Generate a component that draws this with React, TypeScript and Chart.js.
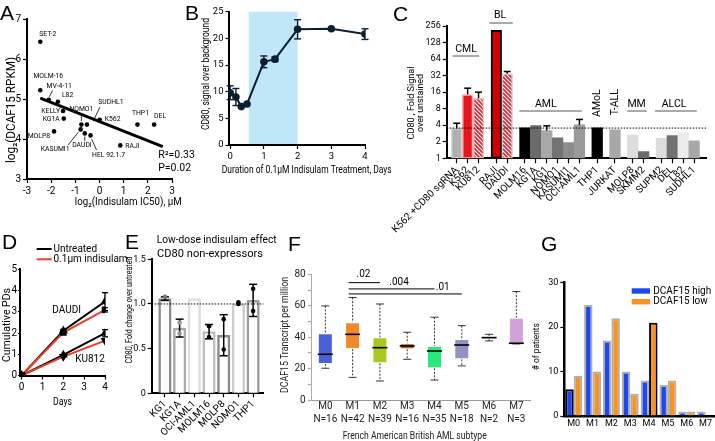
import React, { useEffect, useRef } from 'react';
import { Chart, registerables } from 'chart.js';

Chart.register(...registerables);

const FONT = 'Roboto, "Liberation Sans", sans-serif';
Chart.defaults.font.family = FONT;
Chart.defaults.color = '#000';

// ===== Panel A =====
const aCellLines = ['SET-2', 'MOLM-16', 'MV-4-11', 'L82', 'KELLY', 'KG1A', 'MOLP8', 'NOMO1', 'SUDHL1', 'KASUMI1', 'DAUDI', 'HEL 92.1.7', 'K562', 'THP1', 'DEL', 'RAJI'];
const aLog2IC50 = [-2.45, -2.45, -2.1, -1.72, -1.51, -1.48, -1.88, -0.75, -0.52, -0.78, -0.61, -0.37, 0.01, 1.57, 2.26, 0.86];
const aLog2RPKM = [6.43, 5.22, 4.98, 4.93, 4.7, 4.51, 4.19, 4.36, 4.36, 4.24, 4.14, 4.09, 4.48, 4.36, 4.36, 3.84];
const aFitX = [-2.45, 2.62];
const aFitY = [5.02, 3.81];
const aXTicks = [-3, -2, -1, 0, 1, 2, 3];
const aYTicks = [3, 4, 5, 6, 7];
const aStats = ['R²=0.33', 'P=0.02'];
const aStatX = 2.43;
const aStatY = [3.6, 3.27];

// ===== Panel B =====
const bDays = [0, 0.17, 0.33, 0.5, 1, 1.33, 2, 3, 4];
const bSignal = [9.8, 9.0, 7.2, 7.7, 15.6, 16.1, 21.7, 21.8, 20.8];
const bErr = [1.3, 1.6, 0, 0, 1.1, 0.45, 1.8, 0, 1.0];
const bWindow = [0.55, 2];
const bXTicks = [0, 1, 2, 3, 4];
const bYTicks = [0, 5, 10, 15, 20, 25];

// ===== Panel C =====
const cCells = ['K562 +CD80 sgRNA', 'K562', 'KU812', 'RAJI', 'DAUDI', 'MOLM16', 'KG1A', 'KG1', 'NOMO1', 'KASUMI1', 'OCI-AML1', 'THP1', 'JURKAT', 'MOLP8', 'SKMM2', 'SUPM2', 'DEL', 'L82', 'SUDHL1'];
const cGroupOf = [0, 0, 0, 1, 1, 2, 2, 2, 2, 2, 2, 3, 4, 5, 5, 6, 6, 6, 6];
const cGroups = ['CML', 'BL', 'AML', 'AMoL', 'T-ALL', 'MM', 'ALCL'];
const cSignal = [3.5, 14.5, 12.4, 213, 34.5, 3.6, 3.94, 3.2, 2.37, 1.93, 4.05, 3.6, 3.29, 2.66, 1.32, 2.32, 2.58, 2.93, 2.07];
const cErrTop: (number | null)[] = [4.35, 18.9, 16, null, 38, null, null, 3.9, null, null, 5.1, null, null, null, null, null, null, null, null];
const cThreshold = 3.55;
const cYTicks = [1, 2, 4, 8, 16, 32, 64, 128, 256];
const cYTitle = ['CD80 , Fold Signal', 'over unstained'];

// ===== Panel D =====
const dDays = [0, 2, 4];
const dDaudiUntreated = [0, 2.11, 3.48];
const dDaudiIndisulam = [0, 2.02, 3.09];
const dKu812Untreated = [0, 0.97, 1.99];
const dKu812Indisulam = [0, 0.89, 1.64];
const dDaudiUntreatedErr = [0, 0.06, 0.42];
const dDaudiIndisulamErr = [0, 0.05, 0.1];
const dKu812UntreatedErr = [0, 0, 0.17];
const dLegend = ['Untreated', '0.1μm indisulam'];
const dXTicks = [0, 1, 2, 3, 4];
const dYTicks = [0, 1, 2, 3, 4, 5];

// ===== Panel E =====
const eCells = ['KG1', 'KG1A', 'OCI-AML1', 'MOLM16', 'MOLP8', 'NOMO1', 'THP1'];
const eFold = [1.06, 0.73, 1.06, 0.69, 0.65, 1.0, 1.04];
const eErr = [0.02, 0.1, 0, 0.08, 0.23, 0.01, 0.18];
const eRep1: (number | null)[] = [1.08, 0.79, null, 0.75, 0.83, 1.0, 1.17];
const eRep2: (number | null)[] = [null, 0.67, null, 0.63, 0.49, 1.02, 0.92];
const eYTicks = [0, 0.5, 1.0, 1.5];
const eTitle = ['Low-dose indisulam effect', 'CD80 non-expressors'];

// ===== Panel F =====
const fSubtypes = ['M0', 'M1', 'M2', 'M3', 'M4', 'M5', 'M6', 'M7'];
const fN = [16, 42, 39, 16, 35, 18, 2, 3];
const fMin = [20.2, 14.4, 12.1, 25.9, 12.7, 21.7, 37.6, 35.7];
const fQ1 = [22.9, 32.5, 23.4, 32.3, 20.2, 25.9, 38.6, 35.7];
const fMed = [29.1, 41.8, 33.3, 34.4, 31.2, 35.0, 39.7, 36.1];
const fQ3 = [42.5, 49.5, 39.9, 36.1, 34.4, 38.9, 40.8, 52.4];
const fMax = [59.9, 65.2, 61.1, 43.1, 52.7, 47.3, 41.8, 69.0];
const fSigTo = [2, 4, 5];
const fSigP = ['.02', '.004', '.01'];
const fSigY = [74.7, 70.7, 67.5];
const fYTicks = [0, 10, 20, 30, 40, 50, 60, 70, 80];

// ===== Panel G =====
const gSubtypes = ['M0', 'M1', 'M2', 'M3', 'M4', 'M5', 'M6', 'M7'];
const gHigh = [6, 25, 17, 10, 8, 7, 1, 1];
const gLow = [9, 10, 22, 5, 21, 8, 1, 0];
const gSeries = ['DCAF15 high', 'DCAF15 low'];
const gYTicks = [0, 10, 20, 30];

// ---------- styles ----------
const aLabelStyle: any[] = [
  [-1, -7, 'left', null],
  [8, -13.5, 'center', null],
  [10.5, -13, 'center', [4, -9.5, 0.5, -3]],
  [4, -6, 'left', null],
  [-3, 0, 'right', null],
  [-4, 0.5, 'right', null],
  [-4, 5, 'right', null],
  [0, -15.5, 'center', [0, -11.5, 0, -3.5]],
  [24, -22, 'center', [13, -17.5, 6.3, -3.5]],
  [-25.5, 20, 'center', [-12.5, 15.5, -2.5, 3]],
  [-2.8, 11.6, 'center', [0, 7.5, 0, 3]],
  [18, 19.6, 'center', [6, 14.6, 1, 3.5]],
  [5, 0, 'left', null],
  [3, -11, 'center', null],
  [6, -8, 'center', null],
  [5, 1, 'left', null],
];
const cGroupGap = 0.63;
const cPos = cCells.map((_, i) => i + cGroupOf[i] * cGroupGap);
const cFill = ['#b0b0b0', '#e8141c', 'HATCH', '#d20000', 'HATCH', '#000000', '#6b6b6b', '#a8a8a8', '#727272', '#8c8c8c', '#9a9a9a', '#000000', '#a8a8a8', '#dcdcdc', '#6b6b6b', '#dcdcdc', '#727272', '#ececec', '#a8a8a8'];
const cBorder = ['#cfcfcf', '#f4b4b4', '#f0c0c0', '#000000', '#d4c0c0'];
const cGroupStyle: any[] = [
  [0.85, 96, -0.37, 2.07, 72.8, false],
  [3.97, 405, 2.99, 5.14, 290, false],
  [8.17, 9.7, 5.74, 11.47, 7.26, false],
  [12.9, 10.1, null, null, null, true],
  [14.52, 10.5, null, null, null, true],
  [16.5, 9.7, 15.65, 17.43, 7.26, false],
  [19.94, 9.7, 18.19, 22.02, 7.26, false],
];
const eBorder = ['#8a8a8a', '#ababab', '#dedede', '#bdbdbd', '#8a8a8a', '#cccccc', '#9a9a9a'];
const eMark = ['#777', '#999', '#000', '#000', '#000', '#000', '#000'];
const fColors = ['#4a60d8', '#f0892a', '#a9c81e', '#a2652f', '#27ea7d', '#9191c3', '#33b5c9', '#d0a3d6'];
const fSigLabelX = [1.4, 2.7, 4.3];
const fSigLabelY = [79.6, 75, 71.8];
const gColors = ['#1d48f0', '#f7931e'];
const UP = -Math.PI / 2;

// ---------- helpers ----------
function line(ctx: any, x1: number, y1: number, x2: number, y2: number) {
  ctx.beginPath(); ctx.moveTo(x1, y1); ctx.lineTo(x2, y2); ctx.stroke();
}
function errBar(ctx: any, x: number, yTop: number, yBot: number, cap: number) {
  line(ctx, x, yTop, x, yBot);
  line(ctx, x - cap, yTop, x + cap, yTop);
  line(ctx, x - cap, yBot, x + cap, yBot);
}
function frame(w: number, h: number, l: number, r: number, t: number, b: number) {
  return {
    layout: { padding: { left: 0, top: t, right: w - r, bottom: 0 } },
    xFit: (s: any) => { s.height = h - b; },
    yFit: (s: any) => { s.width = l; },
  };
}
function mkScale(p: any) {
  const s: any = {
    type: p.type || 'linear',
    offset: !!p.offset,
    afterFit: p.fit,
    grid: { drawOnChartArea: false, drawTicks: p.showTicks !== false, tickLength: p.tickLen ?? 4, tickColor: p.axisColor || '#000', tickWidth: 1.2, offset: !!p.offset },
    border: { display: true, color: p.axisColor || '#000', width: p.axisWidth ?? 2 },
    ticks: { autoSkip: false, color: p.labelColor || '#000', font: { size: p.size ?? 10, lineHeight: p.lineHeight ?? 1.2 }, padding: p.pad ?? 2, minRotation: p.rotate ?? 0, maxRotation: p.rotate ?? 0 },
    title: { display: false },
  };
  if (p.min !== undefined) s.min = p.min;
  if (p.max !== undefined) s.max = p.max;
  if (p.ticks) s.afterBuildTicks = (sc: any) => { sc.ticks = p.ticks.map((v: number) => ({ value: v })); };
  if (p.label) s.ticks.callback = p.label;
  return s;
}
function baseOpts(layout: any) {
  return {
    responsive: false, animation: false, layout, events: [],
    plugins: { legend: { display: false }, tooltip: { enabled: false } },
  };
}
// condensed text: drawn at the given size, squeezed horizontally to the given length
function condensed(ctx: any, text: string, cx: number, cy: number, len: number, rot: number, size: number, color = '#000') {
  ctx.save();
  ctx.font = `${size}px ${FONT}`;
  ctx.textAlign = 'center'; ctx.textBaseline = 'middle'; ctx.fillStyle = color;
  const sx = Math.max(0.6, Math.min(1.1, len / ctx.measureText(text).width));
  ctx.translate(cx, cy);
  if (rot) ctx.rotate(rot);
  ctx.scale(sx, 1);
  ctx.fillText(text, 0, 0);
  ctx.restore();
}
// axis titles: [text, centreX, centreY, length, rotation, size, colour]
function titlesPlugin(specs: any[]) {
  return {
    id: 'titles',
    afterDraw(chart: any) {
      specs.forEach(([text, cx, cy, len, rot, size, color]) => condensed(chart.ctx, text, cx, cy, len, rot, size, color));
    },
  };
}
function hatch(ctx: any, color: string) {
  const c = document.createElement('canvas');
  c.width = 4; c.height = 4;
  const g = c.getContext('2d')!;
  g.fillStyle = '#fff'; g.fillRect(0, 0, 4, 4);
  g.strokeStyle = color; g.lineWidth = 1.6;
  g.beginPath(); g.moveTo(-1, -1); g.lineTo(5, 5); g.moveTo(3, -1); g.lineTo(5, 1); g.moveTo(-1, 3); g.lineTo(1, 5); g.stroke();
  return ctx.createPattern(c, 'repeat');
}

// ---------- Panel A ----------
const plugA = {
  id: 'plugA',
  afterDatasetsDraw(chart: any) {
    const { ctx, scales: { x, y } } = chart;
    ctx.save();
    ctx.fillStyle = '#000'; ctx.strokeStyle = '#000'; ctx.lineWidth = 0.8;
    ctx.textBaseline = 'middle';
    ctx.font = `6.8px ${FONT}`;
    aCellLines.forEach((name, i) => {
      const px = x.getPixelForValue(aLog2IC50[i]);
      const py = y.getPixelForValue(aLog2RPKM[i]);
      const [dx, dy, al, ld] = aLabelStyle[i];
      ctx.textAlign = al;
      ctx.fillText(name, px + dx, py + dy);
      if (ld) line(ctx, px + ld[0], py + ld[1], px + ld[2], py + ld[3]);
    });
    ctx.font = `10.5px ${FONT}`;
    ctx.textAlign = 'left';
    aStats.forEach((s, i) => ctx.fillText(s, x.getPixelForValue(aStatX), y.getPixelForValue(aStatY[i])));
    ctx.restore();
  },
};
function cfgA() {
  const f = frame(200, 215, 27, 172, 19, 179);
  return {
    type: 'scatter',
    data: {
      datasets: [
        { type: 'line', data: aFitX.map((x, i) => ({ x, y: aFitY[i] })), borderColor: '#000', borderWidth: 3, pointRadius: 0 },
        { data: aLog2IC50.map((x, i) => ({ x, y: aLog2RPKM[i] })), pointRadius: 2.3, backgroundColor: '#000', borderColor: '#000', borderWidth: 0 },
      ],
    },
    options: {
      ...baseOpts(f.layout),
      scales: {
        x: mkScale({ min: -3, max: 3, ticks: aXTicks, fit: f.xFit }),
        y: mkScale({ min: 3, max: 7, ticks: aYTicks, fit: f.yFit }),
      },
    },
    plugins: [plugA, titlesPlugin([
      ['log₂(Indisulam IC50), μM', 128.3, 202, 107, 0, 11.5],
      ['log₂(DCAF15 RPKM)', 12, 110, 106, UP, 12],
    ])],
  };
}

// ---------- Panel B ----------
const plugB = {
  id: 'plugB',
  beforeDraw(chart: any) {
    const { ctx, scales: { x, y } } = chart;
    ctx.save();
    ctx.fillStyle = '#bfe7f8';
    const x1 = x.getPixelForValue(bWindow[0]);
    const x2 = x.getPixelForValue(bWindow[1]);
    const yt = y.getPixelForValue(bYTicks[bYTicks.length - 1]);
    const yb = y.getPixelForValue(0);
    ctx.fillRect(x1, yt, x2 - x1, yb - yt);
    ctx.restore();
  },
  afterDatasetsDraw(chart: any) {
    const { ctx, scales: { x, y } } = chart;
    ctx.save();
    ctx.strokeStyle = '#0b1f2e'; ctx.lineWidth = 1.4;
    bDays.forEach((d, i) => {
      if (!bErr[i]) return;
      errBar(ctx, x.getPixelForValue(d), y.getPixelForValue(bSignal[i] + bErr[i]), y.getPixelForValue(bSignal[i] - bErr[i]), 3.5);
    });
    ctx.restore();
  },
};
function cfgB() {
  const f = frame(212, 180, 43.5, 180, 11.7, 145);
  return {
    type: 'line',
    data: {
      datasets: [{ data: bDays.map((x, i) => ({ x, y: bSignal[i] })), borderColor: '#0b1f2e', backgroundColor: '#0b1f2e', borderWidth: 2, pointRadius: 2.8 }],
    },
    options: {
      ...baseOpts(f.layout),
      scales: {
        x: mkScale({ min: -0.05, max: 4, ticks: bXTicks, fit: f.xFit, size: 9.5 }),
        y: mkScale({ min: 0, max: 25, ticks: bYTicks, fit: f.yFit, size: 9.5, tickLen: 3 }),
      },
    },
    plugins: [plugB, titlesPlugin([
      ['Duration of 0.1μM Indisulam Treatment, Days', 121.7, 170, 170, 0, 10.5],
      ['CD80, signal over background', 21, 74, 112, UP, 10.5],
    ])],
  };
}

// ---------- Panel C ----------
const plugC = {
  id: 'plugC',
  afterDatasetsDraw(chart: any) {
    const { ctx, scales: { x, y }, chartArea: ca } = chart;
    ctx.save();
    ctx.strokeStyle = '#000'; ctx.lineWidth = 1; ctx.setLineDash([1.5, 1.5]);
    const ty = y.getPixelForValue(cThreshold);
    line(ctx, ca.left, ty, ca.right, ty);
    ctx.setLineDash([]);
    ctx.lineWidth = 1.5;
    cErrTop.forEach((e, i) => {
      if (e == null) return;
      const px = x.getPixelForValue(cPos[i]);
      const y2 = y.getPixelForValue(e);
      line(ctx, px, y.getPixelForValue(cSignal[i]), px, y2);
      line(ctx, px - 3.5, y2, px + 3.5, y2);
    });
    ctx.font = `10.5px ${FONT}`; ctx.textBaseline = 'middle'; ctx.textAlign = 'center'; ctx.fillStyle = '#000';
    ctx.strokeStyle = '#555'; ctx.lineWidth = 1;
    cGroups.forEach((g, k) => {
      const [tx, tyv, lx1, lx2, lyv, vertical] = cGroupStyle[k];
      const px = x.getPixelForValue(tx);
      const py = y.getPixelForValue(tyv);
      if (vertical) {
        ctx.save(); ctx.translate(px, py); ctx.rotate(UP); ctx.fillText(g, 0, 0); ctx.restore();
      } else {
        ctx.fillText(g, px, py);
        const ly = y.getPixelForValue(lyv);
        line(ctx, x.getPixelForValue(lx1), ly, x.getPixelForValue(lx2), ly);
      }
    });
    ctx.restore();
    condensed(ctx, cYTitle[0], ca.left - 35, ca.top + 77, 73, UP, 9.5);
    condensed(ctx, cYTitle[1], ca.left - 26.5, ca.top + 77, 58, UP, 9.5);
  },
};
function cfgC(ctx: any) {
  const f = frame(365, 235, 96.7, 356, 26, 158.3);
  const fills = cFill.map((c) => (c === 'HATCH' ? hatch(ctx, '#e0202a') : c));
  const borders = cCells.map((_, i) => cBorder[i] || 'rgba(0,0,0,0)');
  const bw = cCells.map((_, i) => (i === 3 ? 2 : cBorder[i] ? 1.5 : 0));
  return {
    type: 'bar',
    data: {
      datasets: [{ data: cPos.map((x, i) => ({ x, y: cSignal[i] })), backgroundColor: fills, borderColor: borders, borderWidth: bw, barThickness: 10.6, borderSkipped: false }],
    },
    options: {
      ...baseOpts(f.layout),
      scales: {
        x: mkScale({ min: -0.92, max: 22.87, ticks: cPos, fit: f.xFit, size: 10, rotate: 45, tickLen: 5, pad: 1,
          label: (v: number) => cCells[cPos.findIndex((p) => Math.abs(p - v) < 1e-6)] }),
        y: mkScale({ type: 'logarithmic', min: 1, max: 256, ticks: cYTicks, fit: f.yFit, size: 9, label: (v: number) => String(v) }),
      },
    },
    plugins: [plugC],
  };
}

// ---------- Panel D ----------
const plugD = {
  id: 'plugD',
  afterDatasetsDraw(chart: any) {
    const { ctx, scales: { x, y }, chartArea: ca } = chart;
    ctx.save();
    ctx.strokeStyle = '#000'; ctx.lineWidth = 1.3;
    const sets = [[dDaudiUntreated, dDaudiUntreatedErr], [dDaudiIndisulam, dDaudiIndisulamErr], [dKu812Untreated, dKu812UntreatedErr]];
    sets.forEach(([v, e]) => {
      dDays.forEach((d, i) => {
        if (!e[i]) return;
        errBar(ctx, x.getPixelForValue(d), y.getPixelForValue(v[i] + e[i]), y.getPixelForValue(v[i] - e[i]), 3);
      });
    });
    ctx.font = `10px ${FONT}`; ctx.textBaseline = 'middle'; ctx.textAlign = 'center'; ctx.fillStyle = '#000';
    ctx.fillText('DAUDI', x.getPixelForValue(2.16), y.getPixelForValue(3.06));
    ctx.fillText('KU812', x.getPixelForValue(3.28), y.getPixelForValue(0.76));
    ctx.textAlign = 'left';
    ['#000', '#e8412a'].forEach((c, i) => {
      const ly = ca.top - 20.3 + i * 10.3;
      ctx.strokeStyle = c; ctx.lineWidth = 2;
      line(ctx, ca.left + 16.7, ly, ca.left + 31.7, ly);
      ctx.fillText(dLegend[i], ca.left + 33.5, ly);
    });
    ctx.restore();
  },
};
function cfgD() {
  const f = frame(135, 185, 20, 105, 39.3, 145.5);
  const mk = (vals: number[], color: string, style: string, rot: number) => ({
    data: dDays.map((x, i) => ({ x, y: vals[i] })), borderColor: color, borderWidth: 2,
    pointStyle: style, pointRotation: rot, pointRadius: 3.2, pointBackgroundColor: '#000', pointBorderColor: '#000',
  });
  return {
    type: 'line',
    data: {
      datasets: [
        mk(dDaudiIndisulam, '#e8412a', 'rect', 0),
        mk(dKu812Indisulam, '#e8412a', 'triangle', 180),
        mk(dDaudiUntreated, '#000', 'triangle', 0),
        mk(dKu812Untreated, '#000', 'triangle', 0),
      ],
    },
    options: {
      ...baseOpts(f.layout),
      scales: {
        x: mkScale({ min: -0.08, max: 4, ticks: dXTicks, fit: f.xFit }),
        y: mkScale({ min: 0, max: 5, ticks: dYTicks, fit: f.yFit, tickLen: 2, pad: 1 }),
      },
    },
    plugins: [plugD, titlesPlugin([
      ['Days', 62.5, 172.7, 19, 0, 10],
      ['Cumulative PDs', 7, 95, 74, UP, 10],
    ])],
  };
}

// ---------- Panel E ----------
const plugE = {
  id: 'plugE',
  afterDatasetsDraw(chart: any) {
    const { ctx, scales: { x, y }, chartArea: ca } = chart;
    ctx.save();
    ctx.strokeStyle = '#000'; ctx.lineWidth = 1; ctx.setLineDash([1.5, 1.5]);
    const oy = y.getPixelForValue(1);
    line(ctx, ca.left, oy, ca.right, oy);
    ctx.setLineDash([]);
    ctx.lineWidth = 1.5;
    eCells.forEach((_, i) => {
      const px = x.getPixelForValue(i);
      if (eErr[i] > 0.015) errBar(ctx, px, y.getPixelForValue(eFold[i] + eErr[i]), y.getPixelForValue(eFold[i] - eErr[i]), 4);
      [eRep1[i], eRep2[i]].forEach((r) => {
        if (r == null) return;
        ctx.fillStyle = eMark[i];
        ctx.beginPath(); ctx.arc(px, y.getPixelForValue(r), 2.3, 0, Math.PI * 2); ctx.fill();
      });
    });
    ctx.restore();
  },
};
function cfgE() {
  const f = frame(165, 211, 36.7, 148.4, 29.3, 163.3);
  const pos = eCells.map((_, i) => i);
  return {
    type: 'bar',
    data: {
      datasets: [{ data: pos.map((x, i) => ({ x, y: eFold[i] })), backgroundColor: '#fff', borderColor: eBorder, borderWidth: 2.5, barThickness: 12.5 }],
    },
    options: {
      ...baseOpts(f.layout),
      scales: {
        x: mkScale({ min: -0.9, max: 6.7, ticks: pos, fit: f.xFit, size: 10, rotate: 45, pad: 1, label: (v: number) => eCells[v] }),
        y: mkScale({ min: 0, max: 1.5, ticks: eYTicks, fit: f.yFit, size: 9, label: (v: number) => (v === 0 ? '0' : v.toFixed(1)) }),
      },
    },
    plugins: [plugE, titlesPlugin([
      [eTitle[0], 101.7, 10, 120, 0, 11],
      [eTitle[1], 95, 24, 106, 0, 11],
      ['CD80, Fold change over untreated', 15, 80, 107, UP, 9.5],
    ])],
  };
}

// ---------- Panel F ----------
const plugF = {
  id: 'plugF',
  afterDatasetsDraw(chart: any) {
    const { ctx, scales: { x, y } } = chart;
    ctx.save();
    ctx.strokeStyle = '#000';
    fSubtypes.forEach((_, i) => {
      const cx = x.getPixelForValue(i);
      ctx.lineWidth = 0.8; ctx.setLineDash([2, 1.5]);
      if (fMax[i] > fQ3[i]) line(ctx, cx, y.getPixelForValue(fMax[i]), cx, y.getPixelForValue(fQ3[i]));
      if (fQ1[i] > fMin[i]) line(ctx, cx, y.getPixelForValue(fQ1[i]), cx, y.getPixelForValue(fMin[i]));
      ctx.setLineDash([]);
      line(ctx, cx - 4, y.getPixelForValue(fMax[i]), cx + 4, y.getPixelForValue(fMax[i]));
      line(ctx, cx - 4, y.getPixelForValue(fMin[i]), cx + 4, y.getPixelForValue(fMin[i]));
      ctx.lineWidth = 1.6;
      line(ctx, cx - 7.5, y.getPixelForValue(fMed[i]), cx + 7.5, y.getPixelForValue(fMed[i]));
    });
    ctx.lineWidth = 1; ctx.fillStyle = '#000';
    ctx.font = `10px ${FONT}`; ctx.textAlign = 'center'; ctx.textBaseline = 'middle';
    fSigTo.forEach((t, k) => {
      const ly = y.getPixelForValue(fSigY[k]);
      line(ctx, x.getPixelForValue(1) - 4, ly, x.getPixelForValue(t), ly);
      ctx.fillText(fSigP[k], x.getPixelForValue(fSigLabelX[k]), y.getPixelForValue(fSigLabelY[k]));
    });
    ctx.restore();
  },
};
function cfgF() {
  const f = frame(270, 213, 46.7, 265, 44.3, 170);
  return {
    type: 'bar',
    data: {
      labels: fSubtypes.map((s, i) => [s, `N=${fN[i]}`]),
      datasets: [{ data: fQ1.map((q, i) => [q, fQ3[i]]), backgroundColor: fColors, borderColor: 'rgba(255,255,255,0.35)', borderWidth: 1, borderSkipped: false, categoryPercentage: 1, barPercentage: 0.55 }],
    },
    options: {
      ...baseOpts(f.layout),
      scales: {
        x: mkScale({ type: 'category', offset: true, fit: f.xFit, showTicks: false, pad: 0, axisColor: '#999', axisWidth: 1, labelColor: '#222', lineHeight: 1.3 }),
        y: mkScale({ min: 0, max: 80, ticks: fYTicks, fit: f.yFit, axisColor: '#aaa', axisWidth: 1, labelColor: '#222', label: (v: number) => (v % 20 === 0 ? String(v) : '') }),
      },
    },
    plugins: [plugF, titlesPlugin([
      ['French American British AML subtype', 149.7, 206, 144, 0, 10.5, '#222'],
      ['DCAF15 Transcript per million', 20, 105, 116, UP, 10.5, '#222'],
    ])],
  };
}

// ---------- Panel G ----------
const plugG = {
  id: 'plugG',
  afterDatasetsDraw(chart: any) {
    const { ctx, chartArea: ca } = chart;
    ctx.save();
    ctx.font = `10px ${FONT}`; ctx.textBaseline = 'middle'; ctx.textAlign = 'left'; ctx.fillStyle = '#000';
    gSeries.forEach((s, i) => {
      const cy = ca.top + 8.3 + i * 10.7;
      ctx.fillStyle = gColors[i];
      ctx.fillRect(ca.left + 67.4, cy - 2.7, 18.3, 5.4);
      ctx.fillStyle = '#000';
      ctx.fillText(s, ca.left + 89, cy);
    });
    ctx.restore();
  },
};
function cfgG() {
  const f = frame(195, 211, 44.3, 195, 52.7, 186);
  const edge = (special: number) => gSubtypes.map((_, i) => (i === special ? '#000' : 'rgba(110,110,110,0.55)'));
  return {
    type: 'bar',
    data: {
      labels: gSubtypes,
      datasets: [
        { data: gHigh, backgroundColor: gColors[0], borderColor: edge(0), borderWidth: 2, categoryPercentage: 0.9, barPercentage: 1 },
        { data: gLow, backgroundColor: gColors[1], borderColor: edge(4), borderWidth: 2, categoryPercentage: 0.9, barPercentage: 1 },
      ],
    },
    options: {
      ...baseOpts(f.layout),
      scales: {
        x: mkScale({ type: 'category', offset: true, fit: f.xFit, showTicks: false, size: 9, axisWidth: 2.5 }),
        y: mkScale({ min: 0, max: 30, ticks: gYTicks, fit: f.yFit, size: 9, axisWidth: 2.5 }),
      },
    },
    plugins: [plugG, titlesPlugin([['# of patients', 16.7, 116.7, 47, UP, 9.5]])],
  };
}

function Panel({ x, y, w, h, make }: any) {
  const ref = useRef<HTMLCanvasElement>(null);
  useEffect(() => {
    const cv = ref.current!;
    const chart = new Chart(cv, make(cv.getContext('2d')) as any);
    return () => chart.destroy();
  }, []);
  return <canvas ref={ref} width={w} height={h} style={{ position: 'absolute', left: x, top: y, width: w, height: h }} />;
}

const letters: [string, number, number][] = [['A', 0, 2], ['B', 185, 2], ['C', 393, 3], ['D', 2, 231], ['E', 125, 231], ['F', 288, 233], ['G', 541, 233]];

export default function App() {
  return (
    <div style={{ position: 'fixed', left: 0, top: 0, width: 715, height: 441, background: '#fff', overflow: 'hidden' }}>
      <Panel x={0} y={0} w={200} h={215} make={cfgA} />
      <Panel x={185} y={0} w={212} h={180} make={cfgB} />
      <Panel x={350} y={0} w={365} h={235} make={cfgC} />
      <Panel x={0} y={230} w={135} h={185} make={cfgD} />
      <Panel x={115} y={230} w={165} h={211} make={cfgE} />
      <Panel x={265} y={230} w={270} h={213} make={cfgF} />
      <Panel x={520} y={230} w={195} h={211} make={cfgG} />
      {letters.map(([t, lx, ly]) => (
        <div key={t} style={{ position: 'absolute', left: lx, top: ly, font: '21px "Liberation Sans", Arial, sans-serif', lineHeight: 1, color: '#000' }}>{t}</div>
      ))}
    </div>
  );
}
